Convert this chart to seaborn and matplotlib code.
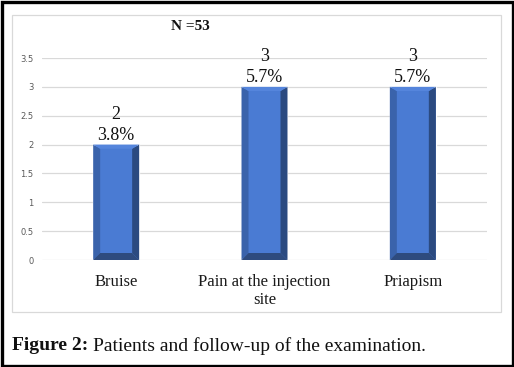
import pandas as pd
import seaborn as sns
from matplotlib import pyplot as plt
from matplotlib.patches import Polygon, Rectangle

# chart data
categories = ['Bruise', 'Pain at the injection\nsite', 'Priapism']
counts = [2, 3, 3]
percents = ['3.8%', '5.7%', '5.7%']
n_total = 53

df = pd.DataFrame({'cat': categories, 'count': counts})

sns.set_theme(style='white')
plt.rcParams['font.family'] = ['Liberation Serif', 'DejaVu Serif']

fig = plt.figure(figsize=(5.14, 3.67), dpi=100)
W, H = 514, 367
ax = fig.add_axes([42 / W, 107 / H, 445 / W, 202 / H])

sns.barplot(data=df, x='cat', y='count', color='#4a7bd3', width=0.31,
            saturation=1, ax=ax, zorder=3)

ax.set_ylim(0, 3.5)
ax.set_xlim(-0.5, 2.5)
ax.set_yticks([0, 0.5, 1, 1.5, 2, 2.5, 3, 3.5])
ax.set_yticklabels(['0', '0.5', '1', '1.5', '2', '2.5', '3', '3.5'],
                   fontsize=6, color='#595959', family='DejaVu Sans')
ax.tick_params(axis='y', length=0, pad=6)
ax.tick_params(axis='x', length=0, pad=10, labelsize=12, colors='#1a1a1a')
for lab in ax.get_xticklabels():
    lab.set_linespacing(1.15)
ax.set_xlabel('')
ax.set_ylabel('')
ax.yaxis.grid(True, color='#d9d9d9', linewidth=0.9, zorder=0)
ax.set_axisbelow(True)
for s in ax.spines.values():
    s.set_visible(False)

# bevel effect on each bar
px_x = 3 / 445
px_y = 3.5 / 202
bx, by = 7 * px_x, 7 * px_y
for p, c, pc in zip(ax.patches, counts, percents):
    x0, w, h = p.get_x(), p.get_width(), p.get_height()
    x1 = x0 + w
    ax.add_patch(Polygon([(x0, 0), (x0 + bx, by), (x0 + bx, h - 0.6 * by), (x0, h)],
                         closed=True, color='#3a63ab', zorder=4, lw=0))
    ax.add_patch(Polygon([(x1, 0), (x1 - bx, by), (x1 - bx, h - 0.6 * by), (x1, h)],
                         closed=True, color='#2b4a80', zorder=4, lw=0))
    ax.add_patch(Polygon([(x0, 0), (x1, 0), (x1 - bx, by), (x0 + bx, by)],
                         closed=True, color='#2e4b7e', zorder=4, lw=0))
    ax.add_patch(Polygon([(x0, h), (x1, h), (x1 - bx, h - 0.6 * by), (x0 + bx, h - 0.6 * by)],
                         closed=True, color='#5585dc', zorder=4, lw=0))
    ax.text(x0 + w / 2, h + 0.01, f'{c}\n{pc}', ha='center', va='bottom',
            fontsize=13, linespacing=1.3, color='#111111', clip_on=False)

fig.text(190 / W, 1 - 27 / H, f'N ={n_total}', ha='center', va='center',
         fontsize=11, fontweight='bold', color='#111111')

# inner chart frame and outer border
fig.add_artist(Rectangle((12 / W, 1 - 312 / H), 489 / W, 297 / H,
                         transform=fig.transFigure, fill=False,
                         edgecolor='#d9d9d9', lw=0.9))
fig.add_artist(Rectangle((1.5 / W, 1.5 / H), 1 - 3 / W, 1 - 3 / H,
                         transform=fig.transFigure, fill=False,
                         edgecolor='black', lw=2.4))

t = fig.text(12 / W, 1 - 346 / H, 'Figure 2:', ha='left', va='center',
             fontsize=14, fontweight='bold', color='#111111')
fig.canvas.draw()
bb = t.get_window_extent()
fig.text(bb.x1 / W + 5 / W, 1 - 346 / H, 'Patients and follow-up of the examination.',
         ha='left', va='center', fontsize=14, color='#111111')

fig.savefig('out.png', dpi=100)
